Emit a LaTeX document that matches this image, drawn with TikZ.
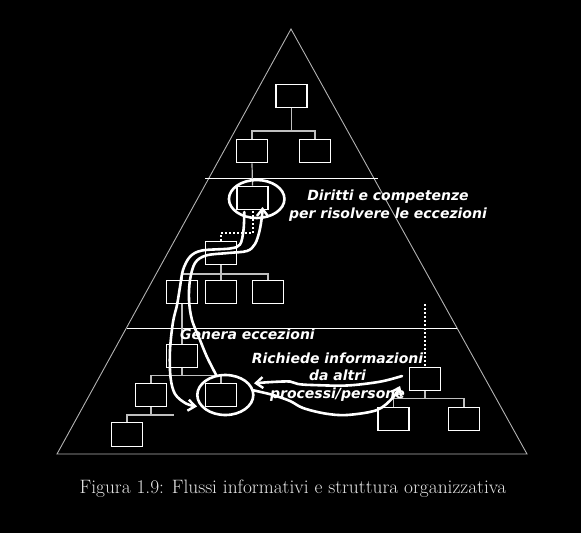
\documentclass[tikz,border=0pt]{standalone}
\usepackage{fontspec}
\newfontfamily\dvfont{DejaVu Sans}
\usetikzlibrary{shapes.geometric,arrows.meta}
\begin{document}
\begin{tikzpicture}[x=1pt,y=-1pt,
  orgbox/.style={draw=white,fill=black,line width=1.2pt,minimum width=31pt,minimum height=23.5pt,inner sep=0pt},
  link/.style={draw=white!75!black,line width=1.2pt},
  sep/.style={draw=white,line width=1pt},
  edge/.style={draw=white!70!black,line width=0.9pt},
  ring/.style={draw=white,line width=2.6pt,ellipse,inner sep=0pt},
  flow/.style={draw=white,line width=2.6pt,line cap=round,line join=round,-{Straight Barb[length=7pt,width=11pt,line width=2.4pt]}},
  dots/.style={draw=white,line width=2pt,dash pattern=on 2pt off 2pt},
  lbl/.style={text=white,font=\dvfont\bfseries\itshape\fontsize{14}{17.5}\selectfont,align=center,inner sep=0pt}]
\fill[black] (0,0) rectangle (581,533);
\useasboundingbox (0,0) rectangle (581,533);
% pyramid
\coordinate (apex) at (291,29);
\coordinate (bl) at (57,454);
\coordinate (br) at (527,454);
\draw[edge] (bl) -- (apex) -- (br) -- cycle;
\coordinate (s1a) at (205,178); \coordinate (s1b) at (378,178);
\coordinate (s2a) at (127,328); \coordinate (s2b) at (457,328);
\draw[sep] (s1a) -- (s1b);
\draw[sep] (s2a) -- (s2b);
% boxes
\node[orgbox] (b1) at (291.5,96) {};
\node[orgbox] (b2) at (252,151) {};
\node[orgbox] (b3) at (315,151) {};
\node[orgbox] (c1) at (252.5,198) {};
\node[orgbox] (b5) at (221,253) {};
\node[orgbox] (b6) at (182,292) {};
\node[orgbox] (b7) at (221,292) {};
\node[orgbox] (b8) at (268,292) {};
\node[orgbox] (b9) at (182,356) {};
\node[orgbox] (b10) at (151,395) {};
\node[orgbox] (c2) at (221,395) {};
\node[orgbox] (b11) at (127,434.5) {};
\node[orgbox] (r1) at (425,379) {};
\node[orgbox] (r2) at (393.5,419) {};
\node[orgbox] (r3) at (464,419) {};
% org links
\draw[link] (b1.south) -- (b1.south |- 0,131) -| (b2.north);
\draw[link] (b1.south |- 0,131) -| (b3.north);
\draw[link] (b2.south) -- (c1.north);
\draw[link] (b5.south) -- (b5.south |- 0,274) -| (b6.north);
\draw[link] (b5.south |- 0,274) -| (b8.north);
\draw[link] (b5.south |- 0,274) -- (b7.north);
\draw[link] (b6.south) -- (b9.north);
\draw[link] (b9.south) -- (b9.south |- 0,375.7) -| (b10.north);
\draw[link] (b9.south |- 0,375.7) -| (c2.north);
\coordinate (stub) at (174,415);
\draw[link] (b10.south) -- (b10.south |- stub);
\draw[link] (b11.north) |- (stub);
\draw[link] (r1.south) -- (r1.south |- 0,398.7) -| (r2.north);
\draw[link] (r1.south |- 0,398.7) -| (r3.north);
% dotted links
\draw[dots] (b5.north) -- (b5.north |- 0,233) -| ([xshift=0.8pt]c1.south);
\coordinate (dtop) at (425,304);
\draw[dots] (dtop) -- (r1.north);
% rings
\node[ring,minimum width=55.5pt,minimum height=38pt] (e1) at (256.7,199) {};
\node[ring,minimum width=56pt,minimum height=40pt] (e2) at (225.3,395) {};
% labels
\node[lbl] (t1) at (388,205.5) {Diritti e competenze\\per risolvere le eccezioni};
\node[lbl] (t2) at (247.5,334) {Genera eccezioni};
\node[lbl] (t3) at (337.5,377) {Richiede informazioni\\da altri\\processi/persone};
% flows
\draw[flow] plot[smooth,tension=0.55] coordinates {(216.7,376) (207,357) (200,340) (192,320) (189,300) (190,280) (195,263) (206,255.5) (228,253) (247,251) (255,244) (259.5,231) (262,216) (262.5,207)};
\draw[flow] plot[smooth,tension=0.55] coordinates {(244.3,212) (243.5,230) (240,244.5) (230,248.5) (202,250.5) (190,256.7) (183,270) (180,287) (177,305) (173,322) (170,350) (170.5,377) (175,394) (186,403.5) (197,406.5)};
\draw[flow] plot[smooth,tension=0.55] coordinates {(402,376) (380,381.7) (347,385.5) (312,385) (298,384) (290,381.5) (272,382) (254,383.3)};
\draw[flow] plot[smooth,tension=0.55] coordinates {(252,390) (273,395) (290,401) (303,408) (325,413.5) (347,415) (377,410) (393,397.5) (400,386)};
% caption
\node[text=white!90!black,font=\fontsize{19.4}{22}\selectfont,inner sep=0pt] (cap) at (292.9,489) {Figura 1.9: Flussi informativi e struttura organizzativa};
\end{tikzpicture}
\end{document}
